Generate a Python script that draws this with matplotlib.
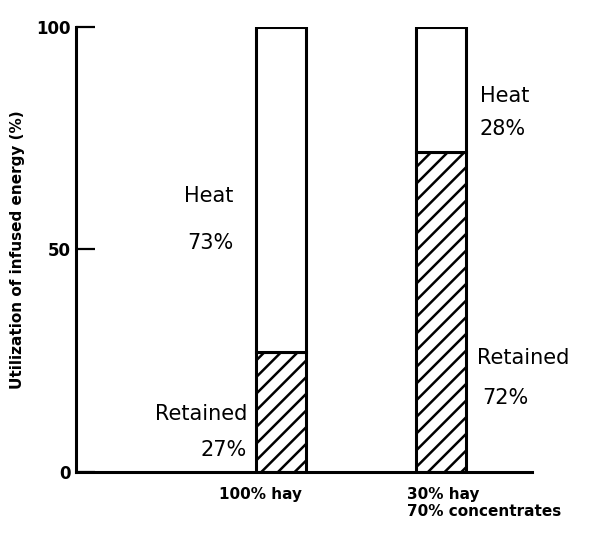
import matplotlib
matplotlib.use("Agg")
import matplotlib.pyplot as plt
import matplotlib.transforms as mtransforms

categories = ["100% hay", "30% hay\n70% concentrates"]
retained = [27, 72]
heat = [73, 28]
positions = [4.5, 8.0]

plt.rcParams['hatch.linewidth'] = 1.8
fig = plt.figure(figsize=(6.0, 5.41), dpi=100)
ax = fig.add_axes([0.127, 0.128, 0.76, 0.822])

ax.bar(positions, retained, width=1.1, color="white", edgecolor="black",
       linewidth=2.2, hatch="//")
ax.bar(positions, heat, width=1.1, bottom=retained, color="white",
       edgecolor="black", linewidth=2.2)

ax.set_xlim(0, 10)
ax.set_ylim(0, 100)
for s in ["top", "right"]:
    ax.spines[s].set_visible(False)
for s in ["left", "bottom"]:
    ax.spines[s].set_linewidth(2.2)

ax.set_yticks([0, 50, 100])
ax.set_yticklabels(["0", "50", "100"], fontsize=12, fontweight="bold")
ax.tick_params(axis="y", direction="in", length=14, width=1.6, pad=4)
ax.set_xticks([])
ax.set_ylabel("Utilization of infused energy (%)", fontsize=11,
              fontweight="bold", labelpad=8)

tf = 15
# bar 1 labels
ax.text(positions[0] - 1.05, 62, "Heat", fontsize=tf, ha="right", va="center")
ax.text(positions[0] - 1.05, 51.5, "73%", fontsize=tf, ha="right", va="center")
ax.text(positions[0] - 0.75, 13, "Retained", fontsize=tf, ha="right", va="center")
ax.text(positions[0] - 0.75, 5, "27%", fontsize=tf, ha="right", va="center")
# bar 2 labels
ax.text(positions[1] + 0.85, 84.5, "Heat", fontsize=tf, ha="left", va="center")
ax.text(positions[1] + 0.85, 77, "28%", fontsize=tf, ha="left", va="center")
ax.text(positions[1] + 0.8, 25.5, "Retained", fontsize=tf, ha="left", va="center")
ax.text(positions[1] + 0.9, 16.5, "72%", fontsize=tf, ha="left", va="center")

trans = mtransforms.blended_transform_factory(ax.transData, ax.transAxes)
ax.text(positions[0] - 0.45, -0.035, categories[0], transform=trans, fontsize=11,
        fontweight="bold", ha="center", va="top")
ax.text(positions[1] - 0.75, -0.035, categories[1], transform=trans, fontsize=11,
        fontweight="bold", ha="left", va="top", linespacing=1.1)

fig.savefig("out.png", dpi=100)
